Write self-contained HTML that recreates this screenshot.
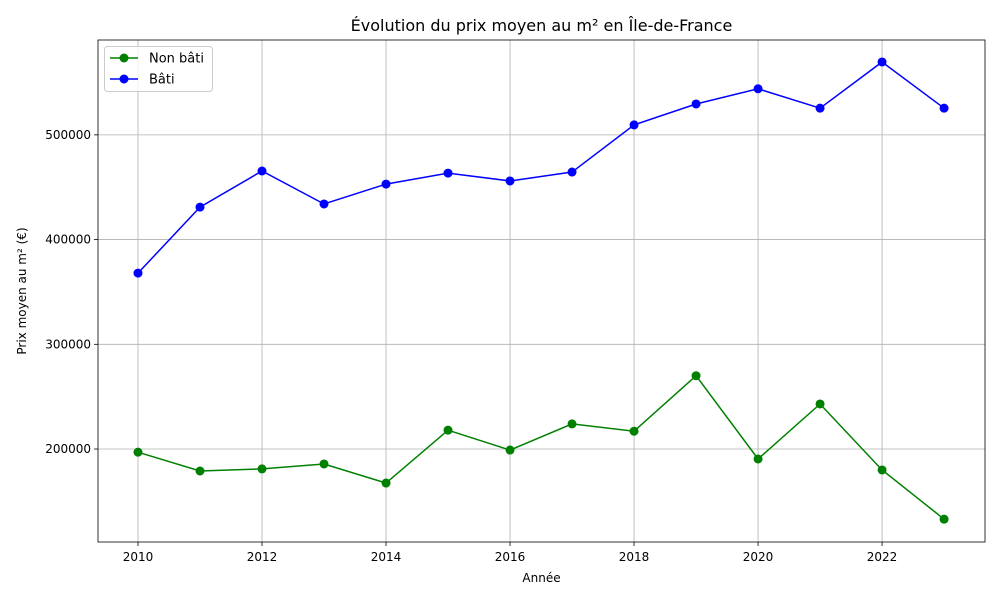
<!DOCTYPE html>
<html><head><meta charset="utf-8"><style>
body{margin:0;background:#fff;font-family:"Liberation Sans","DejaVu Sans",sans-serif}
svg text{font-family:"DejaVu Sans","Liberation Sans",sans-serif}
</style></head><body>
<svg id="chart" width="1000" height="600" xmlns="http://www.w3.org/2000/svg"></svg>
<script>
const years=[2010,2011,2012,2013,2014,2015,2016,2017,2018,2019,2020,2021,2022,2023];
const nonBati=[197000,179000,181000,185700,167500,218000,199000,224000,217000,270000,190500,243000,180000,133000];
const bati=[368000,431000,465500,434000,453000,463500,456000,464500,509500,529500,544000,525500,569600,525500];
const xTicks=[2010,2012,2014,2016,2018,2020,2022];
const yTicks=[200000,300000,400000,500000];
const L=98,R=985,T=40,B=542;
const xMin=2009.355,xMax=2023.66,yMin=111200,yMax=590600;
const sx=v=>L+(v-xMin)/(xMax-xMin)*(R-L);
const sy=v=>B-(v-yMin)/(yMax-yMin)*(B-T);
const svg=document.getElementById('chart');
const NS='http://www.w3.org/2000/svg';
function mk(tag,attrs,parent){const e=document.createElementNS(NS,tag);for(const k in attrs)e.setAttribute(k,attrs[k]);(parent||svg).appendChild(e);return e;}
const grid=mk('g',{});


xTicks.forEach(t=>{const x=sx(t);
 mk('line',{x1:x,x2:x,y1:T,y2:B,stroke:'#b0b0b0','stroke-width':0.8},grid);
 mk('line',{x1:x,x2:x,y1:B,y2:B+4,stroke:'#000','stroke-width':0.8});
 const tx=mk('text',{x:x,y:B+19,'font-size':12,'text-anchor':'middle'});tx.textContent=t;
 
 
});
yTicks.forEach(t=>{const y=sy(t);
 mk('line',{x1:L,x2:R,y1:y,y2:y,stroke:'#b0b0b0','stroke-width':0.8},grid);
 mk('line',{x1:L-4,x2:L,y1:y,y2:y,stroke:'#000','stroke-width':0.8});
 const tx=mk('text',{x:L-7,y:y+4,'font-size':12,'text-anchor':'end'});tx.textContent=t;
 
 
});
function series(vals,color,name){
 const g=mk('g',{});
 
 
 mk('polyline',{points:vals.map((v,i)=>sx(years[i])+','+sy(v)).join(' '),fill:'none',stroke:color,'stroke-width':1.5},g);
 vals.forEach((v,i)=>{const c=mk('circle',{cx:sx(years[i]),cy:sy(v),r:4.5,fill:color},g);
  
  });
}
series(nonBati,'green','series-non-bati');
series(bati,'blue','series-bati');
const frame=mk('rect',{x:L,y:T,width:R-L,height:B-T,fill:'none',stroke:'#000','stroke-width':0.8});


const title=mk('text',{x:(L+R)/2,y:31,'font-size':16,'text-anchor':'middle'});title.textContent='Évolution du prix moyen au m² en Île-de-France';


const xl=mk('text',{x:(L+R)/2,y:582,'font-size':12,'text-anchor':'middle'});xl.textContent='Année';


const yl=mk('text',{x:0,y:0,'font-size':12,'text-anchor':'middle',transform:'translate(26,291) rotate(-90)'});yl.textContent='Prix moyen au m² (€)';


const lg=mk('g',{});


mk('rect',{x:104.5,y:46.5,width:108,height:45,rx:3,fill:'#fff','fill-opacity':0.8,stroke:'#ccc'},lg);
[['Non bâti','green',58],['Bâti','blue',79]].forEach(([n,c,y])=>{
 const e=mk('g',{},lg);
 
 
 mk('line',{x1:110,x2:138,y1:y,y2:y,stroke:c,'stroke-width':1.5},e);
 mk('circle',{cx:124,cy:y,r:4.5,fill:c},e);
 const t=mk('text',{x:149,y:y+4.5,'font-size':13},e);t.textContent=n;
});
</script>
</body></html>
